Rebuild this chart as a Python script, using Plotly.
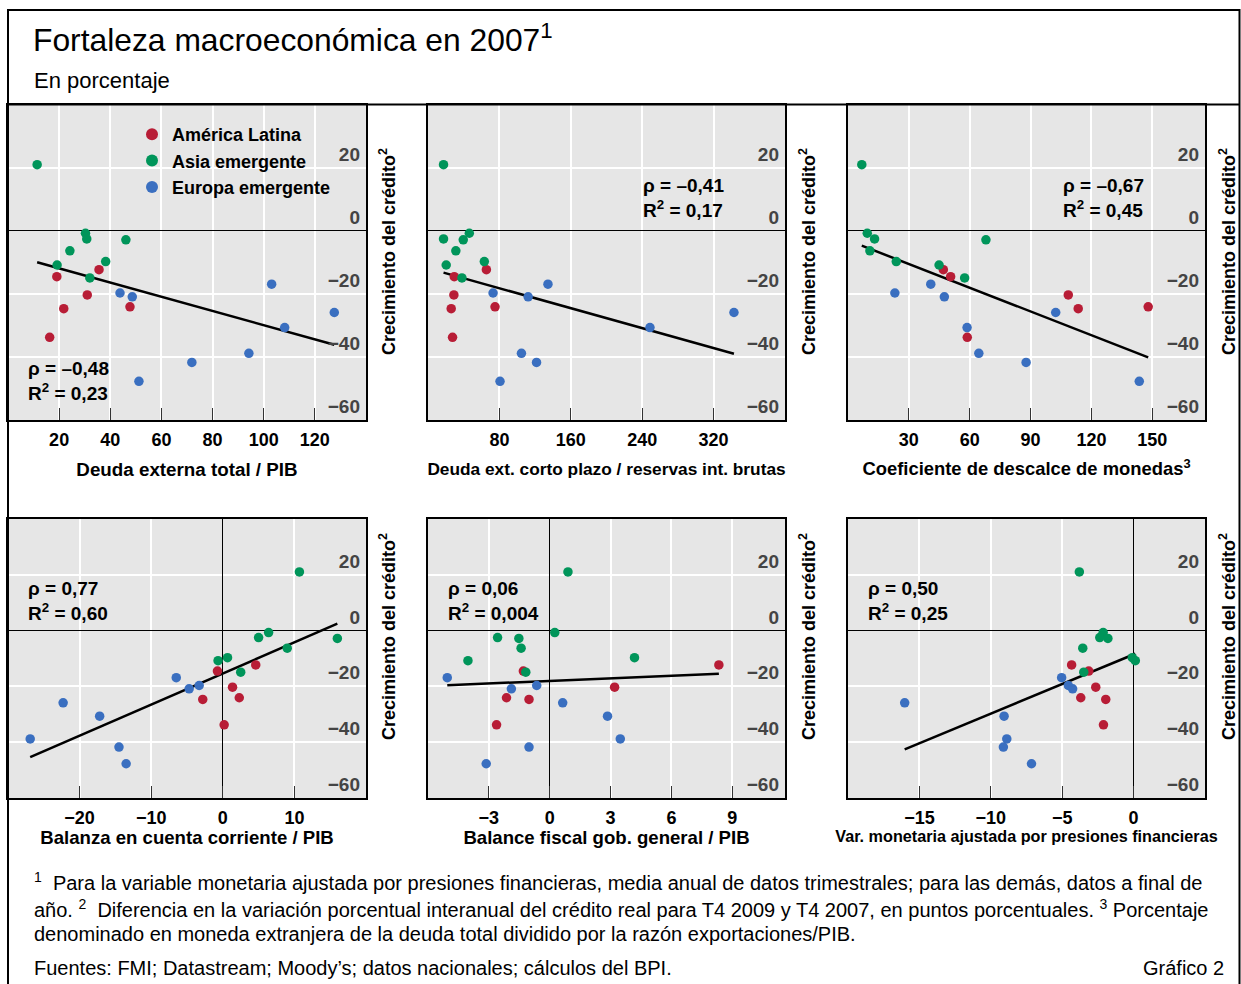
import numpy as np
import plotly.graph_objects as go

W, H = 1241, 984

# ---------------- data ----------------
groups = ["América Latina", "Asia emergente", "Europa emergente"]
group_colors = ["#b81d36", "#00955a", "#3a6fc0"]

# Credit growth (y axis), same economies in every panel
credit_latam = [-12.4, -14.6, -20.4, -24.2, -24.8, -33.9]
credit_asia = [21.0, -0.8, -2.6, -2.9, -6.4, -9.8, -10.9, -15.0]
credit_europe = [-17.0, -19.8, -21.0, -26.0, -30.8, -39.0, -41.9, -47.9]

# Panel 1: total external debt / GDP
p1_latam = [35.6, 19.1, 31.0, 47.7, 21.8, 16.3]
p1_asia = [11.4, 30.3, 30.8, 46.1, 24.2, 38.2, 19.2, 32.0]
p1_europe = [103.1, 43.8, 48.6, 127.6, 108.2, 94.2, 71.9, 51.2]

# Panel 2: short-term external debt / gross reserves
p2_latam = [65.4, 29.4, 29.0, 75.1, 26.0, 27.5]
p2_asia = [17.4, 46.3, 17.4, 39.5, 31.2, 63.1, 20.4, 38.0]
p2_europe = [134.4, 72.9, 112.2, 342.8, 248.7, 104.7, 121.6, 80.7]

# Panel 3: currency mismatch ratio
p3_latam = [47.0, 50.6, 108.6, 148.0, 113.5, 58.8]
p3_asia = [6.8, 9.5, 13.1, 68.0, 10.8, 23.8, 44.9, 57.5]
p3_europe = [40.8, 23.1, 47.5, 102.4, 58.7, 64.5, 87.8, 143.6]

# Panel 4: current account / GDP
p4_latam = [4.6, -0.75, 1.36, 2.3, -2.8, 0.19]
p4_asia = [10.7, 6.4, 5.0, 16.0, 9.0, 0.66, -0.66, 2.5]
p4_europe = [-6.5, -3.3, -4.7, -22.3, -17.2, -26.9, -14.5, -13.5]

# Panel 5: general government fiscal balance / GDP
p5_latam = [8.34, -1.30, 3.20, -2.13, -1.02, -2.62]
p5_asia = [0.90, 0.25, -2.57, -1.52, -1.41, 4.18, -4.03, -1.18]
p5_europe = [-5.05, -0.64, -1.89, 0.64, 2.85, 3.48, -1.02, -3.13]

# Panel 6: monetary variable adjusted for financial pressures
p6_latam = [-4.34, -3.14, -2.65, -3.70, -1.95, -2.11]
p6_asia = [-3.80, -2.13, -2.37, -1.80, -3.56, -0.09, 0.12, -3.49]
p6_europe = [-5.04, -4.57, -4.27, -16.03, -9.07, -8.88, -9.12, -7.15]

x_titles = [
    "Deuda externa total / PIB",
    "Deuda ext. corto plazo / reservas int. brutas",
    "Coeficiente de descalce de monedas<sup>3</sup>",
    "Balanza en cuenta corriente / PIB",
    "Balance fiscal gob. general / PIB",
    "Var. monetaria ajustada por presiones financieras",
]
x_ticks = [
    [20, 40, 60, 80, 100, 120],
    [80, 160, 240, 320],
    [30, 60, 90, 120, 150],
    [-20, -10, 0, 10],
    [-3, 0, 3, 6, 9],
    [-15, -10, -5, 0],
]
x_ranges = [[0, 140], [0, 400], [0, 176], [-30, 20], [-6, 11.6], [-20, 5]]
y_ticks = [-60, -40, -20, 0, 20]
y_range = [-60.2, 40]
stats_text = [
    ("ρ = –0,48", "0,23"),
    ("ρ = –0,41", "0,17"),
    ("ρ = –0,67", "0,45"),
    ("ρ = 0,77", "0,60"),
    ("ρ = 0,06", "0,004"),
    ("ρ = 0,50", "0,25"),
]
y_title = "Crecimiento del crédito<sup>2</sup>"

panel_x = [p1_latam, p2_latam, p3_latam, p4_latam, p5_latam, p6_latam]
panel_asia = [p1_asia, p2_asia, p3_asia, p4_asia, p5_asia, p6_asia]
panel_europe = [p1_europe, p2_europe, p3_europe, p4_europe, p5_europe, p6_europe]

# ---------------- layout geometry (pixels) ----------------
cols = [(8, 366), (428, 785), (848, 1205)]
rows = [(105, 420), (519, 798)]
stats_pos = [(26, 381), (641, 198), (1061, 198), (26, 601), (446, 601), (866, 601)]
ytitle_x = [387, 807, 1227]
ytitle_y = [252, 637]
xtitle_sizes = [18.8, 17.3, 18.4, 18.6, 18.6, 16.2]
xtitle_standoff = [14, 14, 14, 4, 4, 4]

FONT = "Liberation Sans, Arial, Helvetica, sans-serif"


def px(x):
    return x / W


def py(y):
    return 1 - y / H


fig = go.Figure()
layout = dict(
    width=W, height=H, margin=dict(l=0, r=0, t=0, b=0),
    paper_bgcolor="white", plot_bgcolor="#e6e6e6",
    template="none", showlegend=True,
    font=dict(family=FONT, color="black"),
)
annotations = []

for i in range(6):
    r, c = divmod(i, 3)
    x0, x1 = cols[c]
    y0, y1 = rows[r]
    xa = "x" if i == 0 else f"x{i+1}"
    ya = "y" if i == 0 else f"y{i+1}"
    series_x = [panel_x[i], panel_asia[i], panel_europe[i]]
    series_y = [credit_latam, credit_asia, credit_europe]

    # regression line over all points
    allx = np.concatenate([np.asarray(s, float) for s in series_x])
    ally = np.concatenate([np.asarray(s, float) for s in series_y])
    slope, icpt = np.polyfit(allx, ally, 1)
    lx = np.array([allx.min(), allx.max()])
    fig.add_trace(go.Scatter(x=lx, y=slope * lx + icpt, mode="lines",
                             line=dict(color="black", width=2.5),
                             showlegend=False, hoverinfo="skip",
                             xaxis=xa, yaxis=ya))
    for g in range(3):
        fig.add_trace(go.Scatter(
            x=series_x[g], y=series_y[g], mode="markers", name=groups[g],
            marker=dict(color=group_colors[g], size=9.5),
            showlegend=(i == 0), legendgroup=groups[g],
            xaxis=xa, yaxis=ya))

    xkey = "xaxis" if i == 0 else f"xaxis{i+1}"
    ykey = "yaxis" if i == 0 else f"yaxis{i+1}"
    layout[xkey] = dict(
        domain=[px(x0), px(x1)], anchor=ya, range=x_ranges[i],
        tickvals=x_ticks[i], showgrid=True, gridcolor="white", gridwidth=1.5,
        zeroline=(r == 1), zerolinecolor="black", zerolinewidth=1,
        ticks="inside", ticklen=12, tickwidth=1, tickcolor="#333",
        showline=True, linecolor="black", linewidth=1.8, mirror=True,
        tickfont=dict(family=FONT, size=18, weight="bold"),
        ticklabelstandoff=2,
        title=dict(text=x_titles[i], standoff=xtitle_standoff[i],
                   font=dict(family=FONT, size=xtitle_sizes[i], weight="bold")),
        automargin=False, fixedrange=True,
    )
    layout[ykey] = dict(
        domain=[py(y1), py(y0)], anchor=xa, range=y_range, side="right",
        tickvals=y_ticks, showgrid=True, gridcolor="white", gridwidth=1.5,
        zeroline=True, zerolinecolor="black", zerolinewidth=1,
        ticks="", showline=True, linecolor="black", linewidth=1.8, mirror=True,
        ticklabelposition="inside top", ticklabelstandoff=6,
        tickfont=dict(family=FONT, size=19, weight="bold"),
        automargin=False, fixedrange=True,
    )

    sx, sy = stats_pos[i]
    rho, r2 = stats_text[i]
    annotations.append(dict(
        x=px(sx), y=py(sy), xref="paper", yref="paper", xanchor="left",
        yanchor="middle", align="left", showarrow=False,
        text=f"{rho}<br>R<sup>2</sup> = {r2}",
        font=dict(family=FONT, size=19, weight="bold")))
    annotations.append(dict(
        x=px(ytitle_x[c]), y=py(ytitle_y[r]), xref="paper", yref="paper",
        xanchor="center", yanchor="middle", textangle=-90, showarrow=False,
        text=y_title, font=dict(family=FONT, size=18, weight="bold")))

# titles and notes
annotations += [
    dict(x=px(31), y=py(38), xref="paper", yref="paper", xanchor="left",
         yanchor="middle", showarrow=False,
         text="Fortaleza macroeconómica en 2007<sup>1</sup>",
         font=dict(family=FONT, size=31.8)),
    dict(x=px(32), y=py(81), xref="paper", yref="paper", xanchor="left",
         yanchor="middle", showarrow=False, text="En porcentaje",
         font=dict(family=FONT, size=22)),
]
notes = [
    "<sup>1</sup>  Para la variable monetaria ajustada por presiones financieras, media anual de datos trimestrales; para las demás, datos a final de",
    "año. <sup>2</sup>  Diferencia en la variación porcentual interanual del crédito real para T4 2009 y T4 2007, en puntos porcentuales. <sup>3</sup> Porcentaje",
    "denominado en moneda extranjera de la deuda total dividido por la razón exportaciones/PIB.",
    "Fuentes: FMI; Datastream; Moody’s; datos nacionales; cálculos del BPI.",
]
note_y = [881, 908, 934, 968]
for t, yy in zip(notes, note_y):
    annotations.append(dict(x=px(32), y=py(yy), xref="paper", yref="paper",
                            xanchor="left", yanchor="middle", showarrow=False,
                            text=t, font=dict(family=FONT, size=20)))
annotations.append(dict(x=px(1226), y=py(968), xref="paper", yref="paper",
                        xanchor="right", yanchor="middle", showarrow=False,
                        text="Gráfico 2", font=dict(family=FONT, size=20)))

layout["annotations"] = annotations
layout["shapes"] = [
    dict(type="rect", xref="paper", yref="paper", x0=px(8), x1=px(1239.5),
         y0=-0.02, y1=py(10), line=dict(color="black", width=2)),
    dict(type="line", xref="paper", yref="paper", x0=px(8), x1=px(1239.5),
         y0=py(104.5), y1=py(104.5), line=dict(color="black", width=2)),
]
layout["legend"] = dict(
    x=px(132), y=py(116), xanchor="left", yanchor="top",
    bgcolor="rgba(0,0,0,0)", borderwidth=0,
    font=dict(family=FONT, size=18, weight="bold"),
    itemsizing="constant", tracegroupgap=0,
)

fig.update_layout(**layout)
fig.write_html("out.html", config={"displayModeBar": False},
               post_script="document.body.style.margin='0px';")
